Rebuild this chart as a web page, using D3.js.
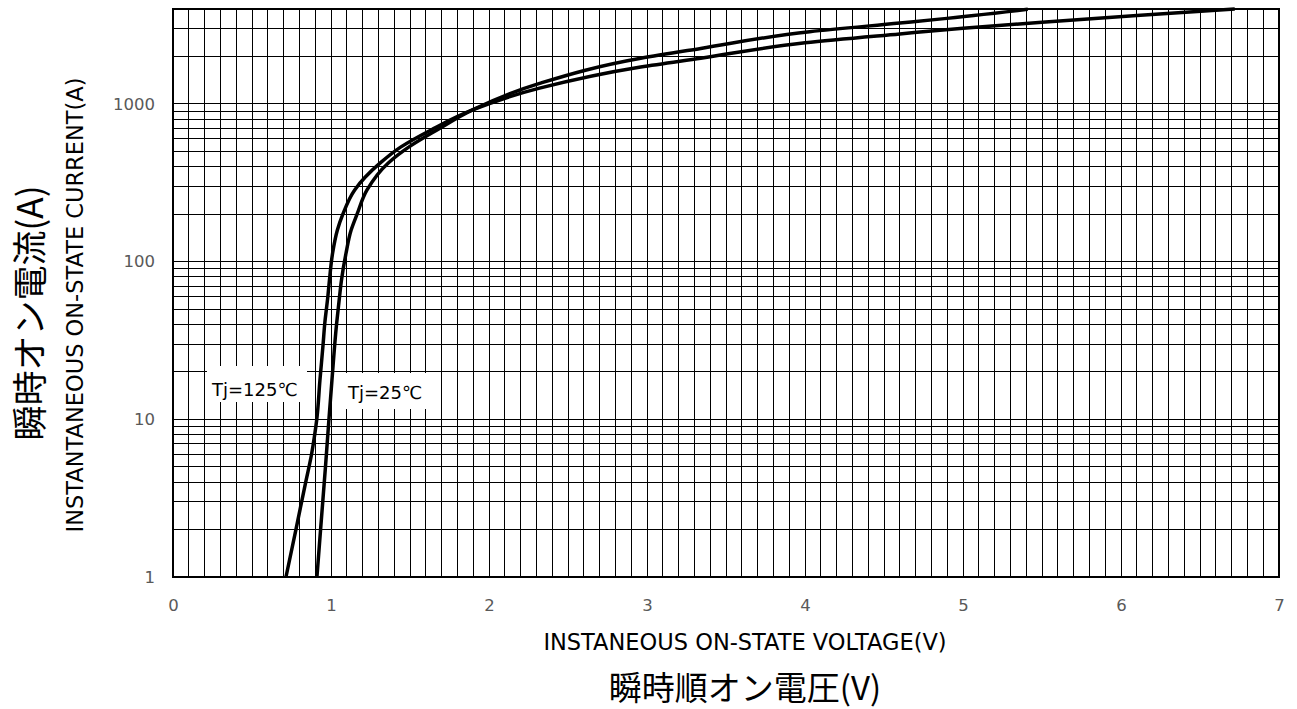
<!DOCTYPE html>
<html><head><meta charset="utf-8">
<script src="https://cdn.jsdelivr.net/npm/d3@7"></script>
<style>body{margin:0;background:#fff}svg{display:block}</style>
</head><body>
<script>
// ---- data ----
const xTicks = [0,1,2,3,4,5,6,7];
const yTicks = [1,10,100,1000];
const tj125V = [0.715,0.778,0.84,0.877,0.897,0.91,0.93,0.95,0.96,0.98,0.99,1.01,1.04,1.075,1.15,1.31,1.443,1.633,1.9,2.32,2.96,3.34,4.0,4.6,5.0,5.5,6.1,6.72];
const tj125I = [1,2,4,6,8,10,17.7,30,40,60,76,113,158,200,285,421,534,684,920,1260,1715,1950,2440,2780,3020,3300,3640,4000];
const tj25V  = [0.911,0.934,0.965,0.987,1.006,1.035,1.054,1.066,1.095,1.127,1.165,1.228,1.361,1.494,1.671,1.899,2.32,2.96,3.34,4.03,4.6,4.85,5.41];
const tj25I  = [1,2,5,10,17.7,40,60,76,113,158,200,285,421,534,684,920,1350,1950,2250,2870,3260,3450,3980];
const labels = ["Tj=125℃","Tj=25℃"];

const W=1297,H=709;
const svg=d3.select("body").append("svg").attr("width",W).attr("height",H);
const L=173,R=1279,T=9,B=577;
const x=d3.scaleLinear().domain([0,7]).range([L,R]);
const y=d3.scaleLog().domain([1,4000]).range([B,T]);

// grid
const g=svg.append("g").attr("stroke","#000").attr("stroke-width",1).attr("shape-rendering","crispEdges");
const vx=d3.range(1,70).map(i=>i/10);
g.selectAll("line.v").data(vx).join("line").attr("class","v")
  .attr("x1",d=>x(d)).attr("x2",d=>x(d)).attr("y1",T).attr("y2",B);
const hy=[];
[1,10,100,1000].forEach(p=>{for(let k=1;k<10;k++){const v=p*k;if(v>1&&v<4000)hy.push(v);}});
g.selectAll("line.h").data(hy).join("line").attr("class","h")
  .attr("x1",L).attr("x2",R).attr("y1",d=>y(d)).attr("y2",d=>y(d));

const tf="DejaVu Sans, Verdana, sans-serif";
// label boxes
svg.append("rect").attr("x",207).attr("y",366).attr("width",100).attr("height",36).attr("fill","#fff");
svg.append("rect").attr("x",343).attr("y",373).attr("width",97).attr("height",36).attr("fill","#fff");
svg.append("text").attr("x",212).attr("y",396).text(labels[0])
  .attr("font-family",tf).attr("font-size",18).attr("fill","#000");
svg.append("text").attr("x",348).attr("y",399).text(labels[1])
  .attr("font-family",tf).attr("font-size",18).attr("fill","#000");

// curves (ordered from high current to low so pixel y increases)
const line=d3.line().x(d=>x(d[0])).y(d=>y(d[1])).curve(d3.curveMonotoneY);
const s125=tj125V.map((v,i)=>[v,tj125I[i]]).reverse();
const s25=tj25V.map((v,i)=>[v,tj25I[i]]).reverse();
svg.append("path").datum(s125).attr("d",line)
  .attr("fill","none").attr("stroke","#000").attr("stroke-width",3.5);
svg.append("path").datum(s25).attr("d",line)
  .attr("fill","none").attr("stroke","#000").attr("stroke-width",3.5);

// frame
svg.append("rect").attr("x",L).attr("y",T).attr("width",R-L).attr("height",B-T)
  .attr("fill","none").attr("stroke","#000").attr("stroke-width",2);

// axes labels
const xa=svg.append("g").attr("transform",`translate(0,${B})`)
  .call(d3.axisBottom(x).tickValues(xTicks).tickSize(0).tickPadding(22).tickFormat(d3.format("d")));
xa.select(".domain").remove();
xa.selectAll("text").attr("font-family",tf).attr("font-size",16.5).attr("fill","#595959");
const ya=svg.append("g").attr("transform",`translate(${L},0)`)
  .call(d3.axisLeft(y).tickValues(yTicks).tickSize(0).tickPadding(18).tickFormat(d3.format("d")));
ya.select(".domain").remove();
ya.selectAll("text").attr("font-family",tf).attr("font-size",16.5).attr("fill","#595959");

svg.append("text").attr("x",745).attr("y",650).attr("text-anchor","middle")
  .attr("font-family",tf).attr("font-size",22.5).attr("fill","#000").text("INSTANEOUS ON-STATE VOLTAGE(V)");
svg.append("text").attr("x",745).attr("y",700).attr("text-anchor","middle")
  .attr("font-family","Noto Sans CJK JP").attr("font-size",33).attr("fill","#000").text("瞬時順オン電圧(V)");
svg.append("text").attr("transform","translate(83,305) rotate(-90)").attr("text-anchor","middle")
  .attr("font-family",tf).attr("font-size",22.5).attr("fill","#000").text("INSTANTANEOUS ON-STATE CURRENT(A)");
svg.append("text").attr("transform","translate(43,313) rotate(-90)").attr("text-anchor","middle")
  .attr("font-family","Noto Sans CJK JP").attr("font-size",35).attr("fill","#000").text("瞬時オン電流(A)");
</script>
</body></html>
